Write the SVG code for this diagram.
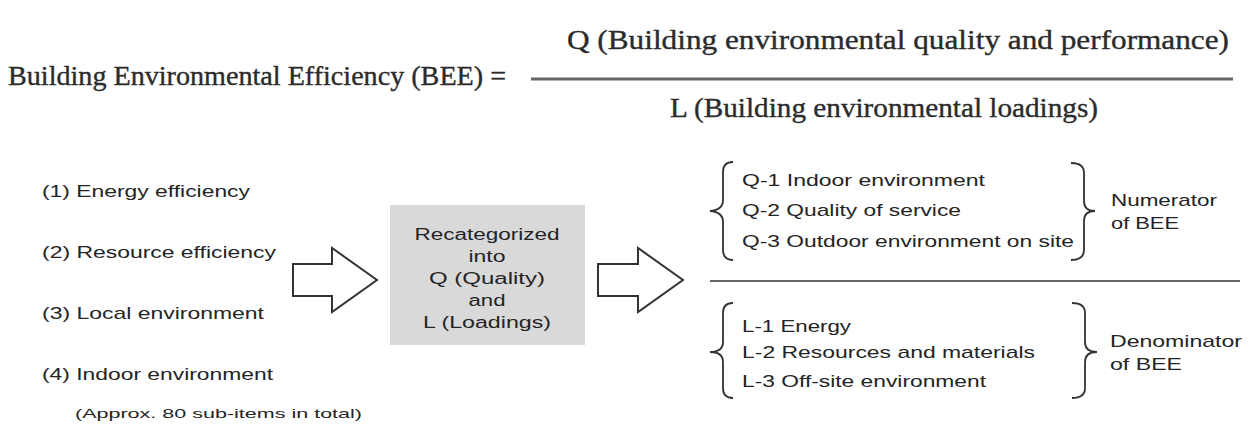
<svg xmlns="http://www.w3.org/2000/svg" width="1250" height="425" viewBox="0 0 1250 425">
  <style>
    .serif { font-family: "Liberation Serif", "Times New Roman", serif; fill: #2b2b2b; stroke: #2b2b2b; stroke-width: 0.35; }
    .sans { font-family: "Liberation Sans", Arial, sans-serif; fill: #242424; }
    .item { font-size: 17px; }
    .box-text { font-size: 16px; text-anchor: middle; }
    .note { font-size: 13px; }
    .block-arrow { fill: #fff; stroke: #333; stroke-width: 2; stroke-linejoin: miter; }
    .brace { fill: none; stroke: #333; stroke-width: 1.8; }
    .rule { stroke: #666; }
  </style>

  <!-- BEE formula -->
  <g id="formula">
    <text class="serif" x="8" y="85" font-size="27" textLength="498" lengthAdjust="spacingAndGlyphs">Building Environmental Efficiency (BEE) =</text>
    <text class="serif" x="567" y="49" font-size="27" textLength="662" lengthAdjust="spacingAndGlyphs">Q (Building environmental quality and performance)</text>
    <line class="rule" x1="531" y1="79" x2="1233" y2="79" stroke-width="3"/>
    <text class="serif" x="670" y="117" font-size="27" textLength="428" lengthAdjust="spacingAndGlyphs">L (Building environmental loadings)</text>
  </g>

  <!-- Original assessment categories -->
  <g id="categories">
    <text class="sans item" x="42" y="197" textLength="208" lengthAdjust="spacingAndGlyphs">(1) Energy efficiency</text>
    <text class="sans item" x="42" y="258" textLength="234" lengthAdjust="spacingAndGlyphs">(2) Resource efficiency</text>
    <text class="sans item" x="42" y="319" textLength="222" lengthAdjust="spacingAndGlyphs">(3) Local environment</text>
    <text class="sans item" x="42" y="380" textLength="231" lengthAdjust="spacingAndGlyphs">(4) Indoor environment</text>
    <text class="sans note" x="75" y="418" textLength="287" lengthAdjust="spacingAndGlyphs">(Approx. 80 sub-items in total)</text>
  </g>

  <!-- Recategorization box -->
  <g id="recategorize">
    <rect x="390" y="205" width="195" height="140" fill="#d9d9d9"/>
    <text class="sans box-text" x="487" y="240" textLength="145" lengthAdjust="spacingAndGlyphs">Recategorized</text>
    <text class="sans box-text" x="487" y="262" textLength="37" lengthAdjust="spacingAndGlyphs">into</text>
    <text class="sans box-text" x="487" y="284" textLength="116" lengthAdjust="spacingAndGlyphs">Q (Quality)</text>
    <text class="sans box-text" x="487" y="306" textLength="37" lengthAdjust="spacingAndGlyphs">and</text>
    <text class="sans box-text" x="487" y="328" textLength="128" lengthAdjust="spacingAndGlyphs">L (Loadings)</text>
  </g>

  <!-- Quality group (numerator) -->
  <g id="quality">
    <path class="brace" d="M733,162 Q723,162 723,172 L723,200 Q723,210 710,211 Q723,212 723,222 L723,250 Q723,260 733,260"/>
    <text class="sans item" x="742" y="186" textLength="243" lengthAdjust="spacingAndGlyphs">Q-1 Indoor environment</text>
    <text class="sans item" x="742" y="216" textLength="219" lengthAdjust="spacingAndGlyphs">Q-2 Quality of service</text>
    <text class="sans item" x="742" y="247" textLength="332" lengthAdjust="spacingAndGlyphs">Q-3 Outdoor environment on site</text>
    <path class="brace" d="M1071,163 Q1084,163 1084,173 L1084,201 Q1084,211 1095,211 Q1084,211 1084,221 L1084,250 Q1084,260 1071,260"/>
    <text class="sans item" x="1111" y="206" textLength="106" lengthAdjust="spacingAndGlyphs">Numerator</text>
    <text class="sans item" x="1111" y="229" textLength="68" lengthAdjust="spacingAndGlyphs">of BEE</text>
  </g>

  <line class="rule" x1="710" y1="281" x2="1240" y2="281" stroke-width="2"/>

  <!-- Loadings group (denominator) -->
  <g id="loadings">
    <path class="brace" d="M733,303 Q723,303 723,313 L723,342 Q723,352 710,352 Q723,352 723,362 L723,388 Q723,398 733,398"/>
    <text class="sans item" x="742" y="332" textLength="109" lengthAdjust="spacingAndGlyphs">L-1 Energy</text>
    <text class="sans item" x="742" y="358" textLength="293" lengthAdjust="spacingAndGlyphs">L-2 Resources and materials</text>
    <text class="sans item" x="742" y="387" textLength="244" lengthAdjust="spacingAndGlyphs">L-3 Off-site environment</text>
    <path class="brace" d="M1072,303 Q1085,303 1085,313 L1085,342 Q1085,352 1097,352 Q1085,352 1085,362 L1085,388 Q1085,398 1072,398"/>
    <text class="sans item" x="1110" y="347" textLength="132" lengthAdjust="spacingAndGlyphs">Denominator</text>
    <text class="sans item" x="1110" y="370" textLength="72" lengthAdjust="spacingAndGlyphs">of BEE</text>
  </g>

  <!-- Flow arrows -->
  <g id="connectors">
    <polygon class="block-arrow" points="293,264 332,264 332,248 377,280 332,312 332,296 293,296"/>
    <polygon class="block-arrow" points="598,264 638,264 638,248 683,280 638,312 638,296 598,296"/>
  </g>
</svg>
